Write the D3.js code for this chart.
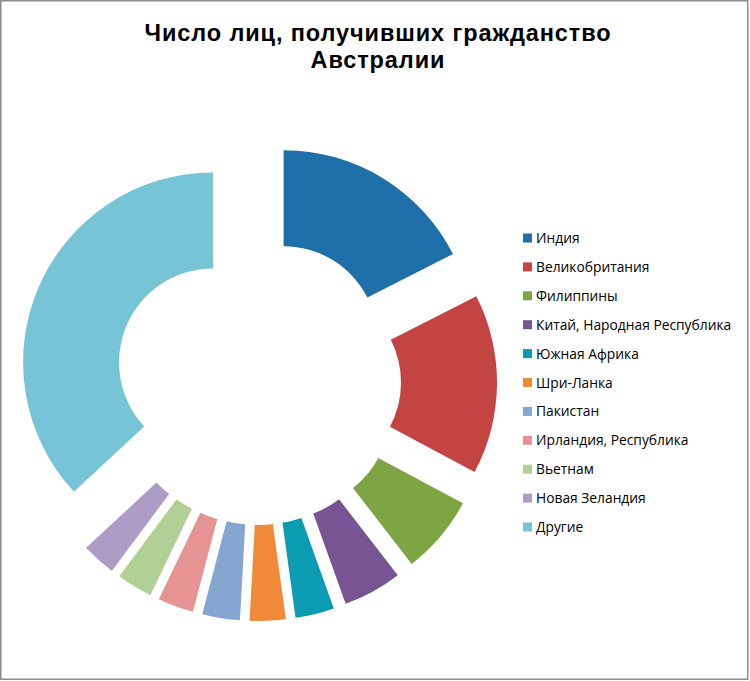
<!DOCTYPE html>
<html>
<head>
<meta charset="utf-8">
<script src="https://cdn.jsdelivr.net/npm/d3@7"></script>
<style>
  body { margin: 0; background: #fff; }
  text { font-family: "Open Sans", Lato, sans-serif; }
  text.title { font-family: "Liberation Sans", Arial, sans-serif; }
</style>
</head>
<body>
<div id="chart"></div>
<script>
var width = 750, height = 681;

// countries (legend order = slice order, clockwise from 12 o'clock)
var countries = ["Индия", "Великобритания", "Филиппины", "Китай, Народная Республика",
    "Южная Африка", "Шри-Ланка", "Пакистан", "Ирландия, Республика",
    "Вьетнам", "Новая Зеландия", "Другие"];
// share of new citizens, %
var shares = [17.5, 15.3, 6.7, 5.0, 3.3, 3.05, 3.2, 3.05, 3.05, 2.9, 36.9];
var colors = ["#1f6fab", "#c44441", "#7da544", "#775493", "#0b9bb3", "#f18a38",
    "#86a6d2", "#e59393", "#b1d095", "#ad9dc6", "#78c4d7"];
var titleLines = ["Число лиц, получивших гражданство", "Австралии"];

var cx = 258, cy = 382,
    outerR = 190, innerR = 94,
    explode = 49;

var svg = d3.select("#chart")
    .append("svg")
        .attr("width", width)
        .attr("height", height);

// chart area frame
svg.append("rect")
    .attr("x", 0.75).attr("y", 0.75)
    .attr("width", width - 3).attr("height", height - 2.5)
    .attr("fill", "#fff")
    .attr("stroke", "#8c8c8c")
    .attr("stroke-width", 1.5);

// title, one text wrapped on two lines
svg.append("text")
    .attr("class", "title")
    .attr("text-anchor", "middle")
    .attr("font-size", "23.5px")
    .attr("letter-spacing", "0.9px")
    .attr("font-weight", "bold")
    .attr("fill", "#000")
  .selectAll("tspan")
    .data(titleLines)
  .enter().append("tspan")
    .attr("x", 378)
    .attr("y", function(d, i) { return 40.5 + i * 27.2; })
    .text(function(d) { return d; });

var pie = d3.pie().sort(null).value(function(d) { return d; });
var arc = d3.arc().innerRadius(innerR).outerRadius(outerR);

var g = svg.append("g")
    .attr("transform", "translate(" + cx + "," + cy + ")");

g.selectAll(".slice")
    .data(pie(shares))
  .enter().append("path")
    .attr("class", "slice")
    .attr("d", arc)
    .attr("fill", function(d, i) { return colors[i]; })
    .attr("transform", function(d) {
        var a = (d.startAngle + d.endAngle) / 2;
        return "translate(" + (explode * Math.sin(a)) + "," + (-explode * Math.cos(a)) + ")";
    });

// legend
var legend = svg.append("g")
    .attr("transform", "translate(523,238)");

var item = legend.selectAll(".item")
    .data(countries)
  .enter().append("g")
    .attr("class", "item")
    .attr("transform", function(d, i) { return "translate(0," + (i * 28.9) + ")"; });

item.append("rect")
    .attr("x", 0).attr("y", -4.5)
    .attr("width", 9).attr("height", 9)
    .attr("fill", function(d, i) { return colors[i]; });

item.append("text")
    .attr("x", 13)
    .attr("y", 5)
    .attr("font-size", "13.8px")
    .attr("fill", "#000")
    .text(function(d) { return d; });
</script>
</body>
</html>
